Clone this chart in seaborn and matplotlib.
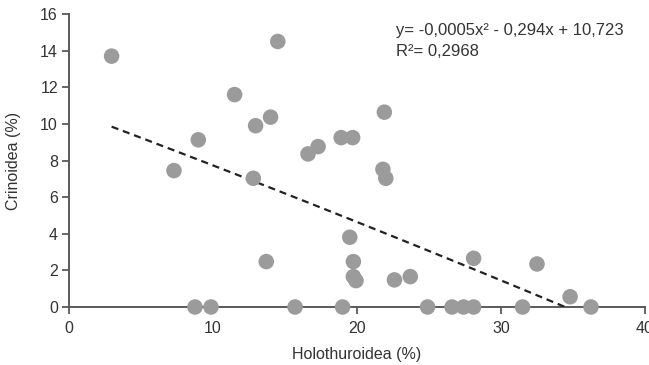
import numpy as np
import pandas as pd
import matplotlib
matplotlib.use("Agg")
import matplotlib.pyplot as plt
import seaborn as sns

# Holothuroidea vs Crinoidea abundance (%) per station
holothuroidea = [2.96, 14.5, 11.5, 14.0, 12.96, 8.98, 7.29, 12.8, 16.6, 17.3,
                 21.9, 18.9, 19.7, 21.8, 22.0,
                 13.7, 19.5, 19.75, 19.75, 19.93, 22.6, 23.7, 28.1, 32.5, 34.8,
                 8.75, 9.86, 15.7, 19.0, 24.9, 26.6, 27.4, 28.1, 31.5, 36.25]
crinoidea = [13.7, 14.5, 11.6, 10.37, 9.9, 9.13, 7.45, 7.03, 8.36, 8.76,
             10.64, 9.25, 9.25, 7.52, 7.03,
             2.48, 3.81, 2.48, 1.66, 1.44, 1.48, 1.66, 2.66, 2.35, 0.56,
             0, 0, 0, 0, 0, 0, 0, 0, 0, 0]

# Polynomial trend coefficients (a*x^2 + b*x + c) and fit quality
coef_a, coef_b, coef_c = -0.0005, -0.294, 10.723
r_squared = 0.2968

x_ticks = [0, 10, 20, 30, 40]
y_ticks = [0, 2, 4, 6, 8, 10, 12, 14, 16]

sns.set_theme(style="white")
plt.rcParams["font.family"] = ["Liberation Sans", "DejaVu Sans"]

df = pd.DataFrame({"Holothuroidea": holothuroidea, "Crinoidea": crinoidea})

fig = plt.figure(figsize=(6.49, 3.65), dpi=100)
ax = fig.add_axes([0.1063, 0.1589, 0.8875, 0.8027])

# Trend curve from the smallest x to where it reaches zero
disc = np.sqrt(coef_b ** 2 - 4 * coef_a * coef_c)
roots = [(-coef_b - disc) / (2 * coef_a), (-coef_b + disc) / (2 * coef_a)]
x_end = min(r for r in roots if r > min(holothuroidea))
xs = np.linspace(min(holothuroidea), x_end, 100)
ys = coef_a * xs ** 2 + coef_b * xs + coef_c
sns.lineplot(x=xs, y=ys, ax=ax, color="#222222", linestyle=(0, (3.2, 2.2)),
             linewidth=1.6, zorder=3)

sns.scatterplot(data=df, x="Holothuroidea", y="Crinoidea", ax=ax, s=125,
                color="#9b9b9b", edgecolor="none", linewidth=0, zorder=4,
                clip_on=False)

ax.set_xlim(0, 40)
ax.set_ylim(0, 16)
ax.set_xticks(x_ticks)
ax.set_yticks(y_ticks)
ax.set_xticklabels([str(t) for t in x_ticks])
ax.set_yticklabels([str(t) for t in y_ticks])

axis_col = "#5a5a5a"
for side in ["top", "right"]:
    ax.spines[side].set_visible(False)
for side in ["left", "bottom"]:
    ax.spines[side].set_color(axis_col)
    ax.spines[side].set_linewidth(1.4)
    ax.spines[side].set_zorder(2)

ax.tick_params(axis="both", which="major", direction="out", length=5,
               width=1.3, color=axis_col, labelsize=11.5, labelcolor="#333333",
               pad=3, bottom=True, left=True)
ax.tick_params(axis="x", pad=5)

ax.set_xlabel("Holothuroidea (%)", fontsize=11.5, color="#333333", labelpad=8)
ax.set_ylabel("Crinoidea (%)", fontsize=11.5, color="#333333", labelpad=14)

eq = f"y= {coef_a:.4f}x\u00b2 - {abs(coef_b):.3f}x + {coef_c:.3f}".replace(".", ",")
ax.text(0.567, 0.93, eq, transform=ax.transAxes, fontsize=12,
        color="#333333", va="baseline", ha="left")
ax.text(0.567, 0.855, f"R\u00b2= {r_squared:.4f}".replace(".", ","),
        transform=ax.transAxes, fontsize=12, color="#333333",
        va="baseline", ha="left")

fig.savefig("out.png", dpi=100)
